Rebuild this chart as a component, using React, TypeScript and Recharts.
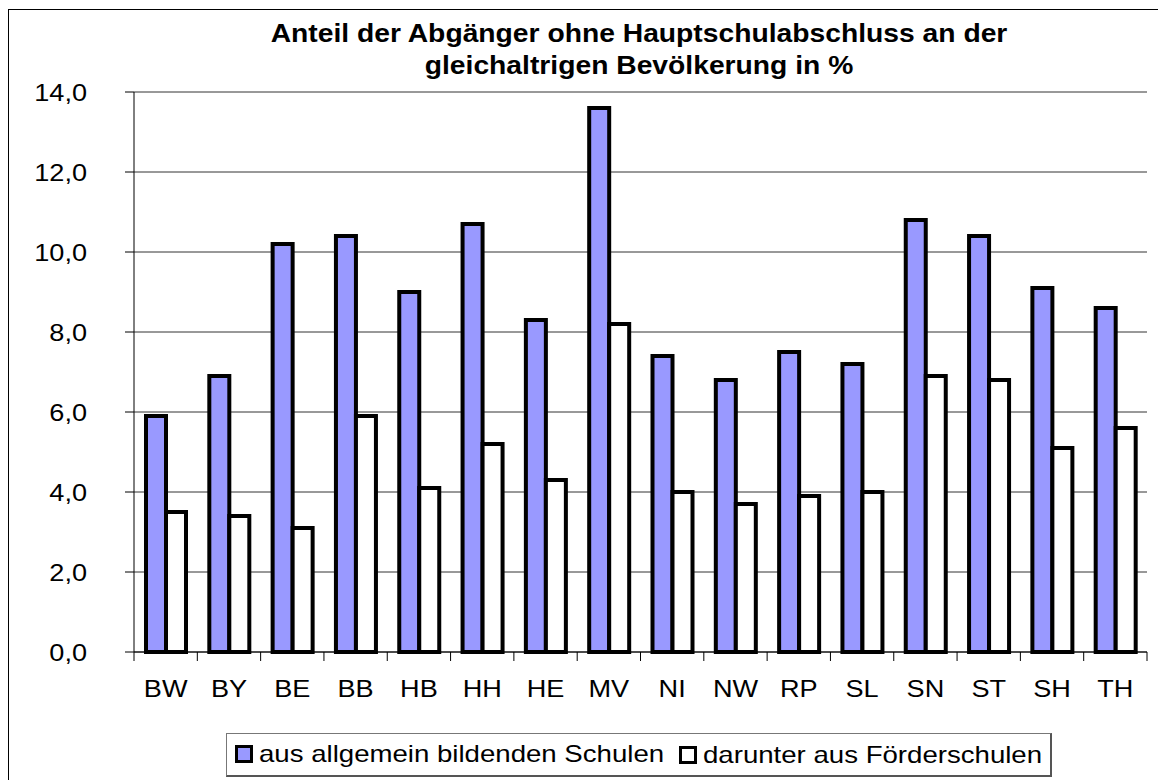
import { Bar, BarChart, CartesianGrid, Rectangle, XAxis, YAxis } from "recharts";

const laender = ["BW", "BY", "BE", "BB", "HB", "HH", "HE", "MV", "NI", "NW", "RP", "SL", "SN", "ST", "SH", "TH"];
const allgemeinbildend = [5.9, 6.9, 10.2, 10.4, 9.0, 10.7, 8.3, 13.6, 7.4, 6.8, 7.5, 7.2, 10.8, 10.4, 9.1, 8.6];
const foerderschulen = [3.5, 3.4, 3.1, 5.9, 4.1, 5.2, 4.3, 8.2, 4.0, 3.7, 3.9, 4.0, 6.9, 6.8, 5.1, 5.6];
const yTicks = [0, 2, 4, 6, 8, 10, 12, 14];
const seriesNames = ["aus allgemein bildenden Schulen", "darunter aus Förderschulen"];
const titleLines = ["Anteil der Abgänger ohne Hauptschulabschluss an der", "gleichaltrigen Bevölkerung in %"];

const data = laender.map((code, i) => ({
  code,
  allg: allgemeinbildend[i],
  foerd: foerderschulen[i],
}));

const W = 1158;
const H = 780;
const PLOT_LEFT = 134;
const PLOT_RIGHT = 1147;
const PLOT_TOP = 92;
const PLOT_BOTTOM = 652;
const BAND = (PLOT_RIGHT - PLOT_LEFT) / laender.length;
const CENTER_X = 639;

const FONT = '"Liberation Sans", Arial, sans-serif';
const SX = 1.13; // source image is stretched horizontally
const BLUE = "#9999ff";

function YTick({ x, y, payload }: any) {
  return (
    <text
      transform={`translate(${x},${y}) scale(${SX},1)`}
      textAnchor="end"
      dy="0.36em"
      fontSize={24}
      fontFamily={FONT}
      fill="#000"
    >
      {Number(payload.value).toFixed(1).replace(".", ",")}
    </text>
  );
}

function XTick({ x, payload, index }: any) {
  const left = x - BAND / 2;
  const isLast = index === laender.length - 1;
  return (
    <g>
      <line x1={left} x2={left} y1={PLOT_BOTTOM} y2={PLOT_BOTTOM + 9} stroke="#000" />
      {isLast && (
        <line x1={left + BAND} x2={left + BAND} y1={PLOT_BOTTOM} y2={PLOT_BOTTOM + 9} stroke="#000" />
      )}
      <text
        transform={`translate(${x},${688}) scale(${SX},1)`}
        textAnchor="middle"
        dy="0.36em"
        fontSize={24}
        fontFamily={FONT}
        fill="#000"
      >
        {payload.value}
      </text>
    </g>
  );
}

function LegendItem({ color, label }: { color: string; label: string }) {
  return (
    <span style={{ display: "inline-flex", alignItems: "center" }}>
      <span
        style={{
          width: 18,
          height: 18,
          boxSizing: "border-box",
          border: "3px solid #000",
          background: color,
          display: "inline-block",
          marginRight: 6,
        }}
      />
      <span
        style={{
          display: "inline-block",
          transform: "scaleX(1.15)",
          transformOrigin: "left center",
          whiteSpace: "nowrap",
        }}
      >
        {label}
      </span>
    </span>
  );
}

const barShape = (props: any) => <Rectangle {...props} stroke="#000" strokeWidth={4} />;

export default function App() {
  return (
    <div
      style={{
        position: "absolute",
        left: 0,
        top: 0,
        width: W,
        height: H,
        overflow: "hidden",
        background: "#fff",
        fontFamily: FONT,
      }}
    >
      <div
        style={{
          position: "absolute",
          left: 8,
          top: 9,
          width: 2000,
          height: 2000,
          border: "1px solid #000",
        }}
      />

      {titleLines.map((line, i) => (
        <div
          key={line}
          style={{
            position: "absolute",
            left: CENTER_X - 600,
            width: 1200,
            top: 33 + i * 32 - 16,
            height: 32,
            lineHeight: "32px",
            textAlign: "center",
            fontWeight: "bold",
            fontSize: 25,
            transform: `scaleX(${SX})`,
            transformOrigin: "600px center",
            whiteSpace: "nowrap",
          }}
        >
          {line}
        </div>
      ))}

      <div style={{ position: "absolute", left: 0, top: 0 }}>
        <BarChart
          width={W}
          height={H}
          data={data}
          margin={{ top: PLOT_TOP, right: W - PLOT_RIGHT, bottom: H - PLOT_BOTTOM - 40, left: 0 }}
          barGap={0}
          barSize={20}
        >
          <CartesianGrid vertical={false} stroke="#333" />
          <XAxis
            dataKey="code"
            height={40}
            tickLine={false}
            axisLine={{ stroke: "#000" }}
            tick={<XTick />}
            interval={0}
          />
          <YAxis
            width={PLOT_LEFT}
            domain={[0, 14]}
            ticks={yTicks}
            tickSize={9}
            tickMargin={38}
            tickLine={{ stroke: "#000" }}
            axisLine={{ stroke: "#000" }}
            tick={<YTick />}
            interval={0}
          />
          <YAxis
            yAxisId="frame"
            orientation="right"
            width={0}
            domain={[0, 14]}
            tick={false}
            tickLine={false}
            axisLine={{ stroke: "#666" }}
          />
          <Bar dataKey="allg" name={seriesNames[0]} fill={BLUE} stroke="#000" shape={barShape} isAnimationActive={false} />
          <Bar dataKey="foerd" name={seriesNames[1]} fill="#fff" stroke="#000" shape={barShape} isAnimationActive={false} />
        </BarChart>
      </div>

      <div
        style={{
          position: "absolute",
          left: 226,
          top: 733,
          width: 826,
          height: 44,
          boxSizing: "border-box",
          border: "1px solid #777",
          borderBottom: "2px solid #555",
          borderRight: "2px solid #555",
          display: "flex",
          alignItems: "center",
          paddingLeft: 8,
          fontSize: 24,
        }}
      >
        <span style={{ width: 444, display: "inline-block" }}>
          <LegendItem color={BLUE} label={seriesNames[0]} />
        </span>
        <LegendItem color="#fff" label={seriesNames[1]} />
      </div>
    </div>
  );
}
